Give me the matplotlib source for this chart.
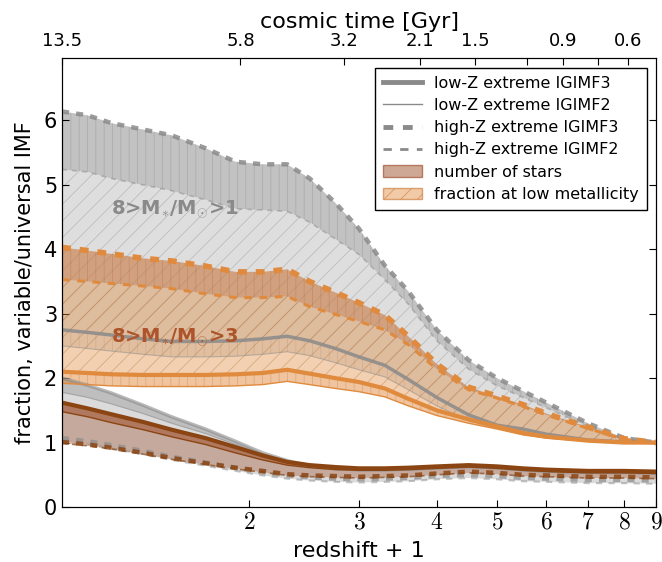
import numpy as np
import matplotlib
matplotlib.use("Agg")
import matplotlib.pyplot as plt
from matplotlib.lines import Line2D
from matplotlib.patches import Patch
from matplotlib.ticker import FixedLocator, FixedFormatter, NullLocator

plt.rcParams['mathtext.fontset'] = 'cm'
plt.rcParams['font.family'] = ['DejaVu Sans']
plt.rcParams['hatch.linewidth'] = 0.6

# redshift + 1 sampling
zp1 = [1.0, 1.1, 1.2, 1.35, 1.5, 1.7, 1.9, 2.1, 2.3, 2.5, 2.75, 3.0, 3.3, 3.6,
       4.0, 4.5, 5.0, 5.5, 6.0, 7.0, 8.0, 9.0]

# fraction at low metallicity, 8 > M/Msun > 1
hiZ3_m1 = [6.14, 6.08, 5.96, 5.86, 5.77, 5.57, 5.36, 5.32, 5.32, 5.10, 4.72, 4.32,
           3.75, 3.35, 2.75, 2.28, 2.00, 1.80, 1.62, 1.30, 1.07, 1.00]
hiZ2_m1 = [5.24, 5.20, 5.10, 5.00, 4.91, 4.77, 4.63, 4.61, 4.59, 4.42, 4.16, 3.92,
           3.53, 3.15, 2.58, 2.14, 1.88, 1.70, 1.54, 1.25, 1.04, 1.00]
loZ3_m1 = [2.75, 2.71, 2.67, 2.61, 2.57, 2.57, 2.58, 2.61, 2.65, 2.58, 2.46, 2.33,
           2.20, 1.98, 1.70, 1.43, 1.27, 1.21, 1.13, 1.04, 1.01, 1.00]
loZ2_m1 = [2.50, 2.46, 2.42, 2.37, 2.33, 2.33, 2.34, 2.37, 2.41, 2.35, 2.24, 2.13,
           2.02, 1.82, 1.57, 1.34, 1.22, 1.17, 1.10, 1.03, 1.00, 1.00]

# fraction at low metallicity, 8 > M/Msun > 3
hiZ3_m3 = [4.03, 3.98, 3.93, 3.86, 3.82, 3.74, 3.65, 3.65, 3.69, 3.50, 3.33, 3.17,
           2.98, 2.65, 2.22, 1.86, 1.72, 1.59, 1.45, 1.24, 1.06, 1.00]
hiZ2_m3 = [3.53, 3.50, 3.47, 3.43, 3.39, 3.31, 3.25, 3.25, 3.27, 3.11, 2.99, 2.88,
           2.75, 2.52, 2.14, 1.82, 1.69, 1.56, 1.43, 1.22, 1.05, 1.00]
loZ3_m3 = [2.10, 2.08, 2.06, 2.05, 2.05, 2.05, 2.06, 2.08, 2.13, 2.07, 2.00, 1.94,
           1.84, 1.68, 1.50, 1.36, 1.25, 1.15, 1.09, 1.03, 1.00, 1.00]
loZ2_m3 = [1.92, 1.90, 1.88, 1.87, 1.87, 1.87, 1.88, 1.90, 1.95, 1.90, 1.84, 1.79,
           1.71, 1.57, 1.42, 1.30, 1.21, 1.12, 1.07, 1.02, 1.00, 1.00]

# number of stars, 8 > M/Msun > 1
nloZ3_m1 = [2.00, 1.89, 1.77, 1.58, 1.40, 1.21, 1.02, 0.84, 0.72, 0.64, 0.60, 0.58,
            0.58, 0.59, 0.61, 0.63, 0.61, 0.58, 0.56, 0.54, 0.54, 0.53]
nloZ2_m1 = [1.78, 1.70, 1.60, 1.45, 1.30, 1.14, 0.97, 0.80, 0.69, 0.62, 0.58, 0.56,
            0.56, 0.57, 0.59, 0.61, 0.59, 0.56, 0.54, 0.52, 0.52, 0.51]
nhiZ3_m1 = [1.07, 1.02, 0.96, 0.87, 0.78, 0.69, 0.61, 0.54, 0.49, 0.46, 0.44, 0.43,
            0.44, 0.45, 0.48, 0.50, 0.48, 0.45, 0.44, 0.42, 0.42, 0.41]
nhiZ2_m1 = [1.02, 0.97, 0.91, 0.82, 0.73, 0.64, 0.56, 0.49, 0.44, 0.41, 0.39, 0.38,
            0.39, 0.40, 0.43, 0.45, 0.43, 0.40, 0.39, 0.37, 0.37, 0.36]

# number of stars, 8 > M/Msun > 3
nloZ3_m3 = [1.62, 1.53, 1.44, 1.32, 1.20, 1.07, 0.93, 0.80, 0.70, 0.65, 0.62, 0.60,
            0.60, 0.61, 0.63, 0.65, 0.63, 0.60, 0.58, 0.56, 0.56, 0.55]
nloZ2_m3 = [1.48, 1.40, 1.31, 1.20, 1.09, 0.97, 0.84, 0.73, 0.65, 0.61, 0.58, 0.57,
            0.57, 0.58, 0.60, 0.62, 0.60, 0.57, 0.55, 0.53, 0.53, 0.52]
nhiZ3_m3 = [1.01, 0.97, 0.92, 0.84, 0.76, 0.68, 0.61, 0.56, 0.51, 0.49, 0.48, 0.47,
            0.48, 0.49, 0.52, 0.55, 0.53, 0.50, 0.49, 0.47, 0.47, 0.46]
nhiZ2_m3 = [0.99, 0.95, 0.90, 0.82, 0.74, 0.66, 0.59, 0.54, 0.49, 0.47, 0.46, 0.45,
            0.46, 0.47, 0.50, 0.53, 0.51, 0.48, 0.47, 0.45, 0.45, 0.44]

# axis ticks
zp1_ticks = [2, 3, 4, 5, 6, 7, 8, 9]
age_tick_zp1 = [1.0, 1.935, 2.84, 3.76, 4.61, 5.58, 6.38, 7.26, 8.11]
age_labels = ['13.5', '5.8', '3.2', '2.1', '1.5', '', '0.9', '', '0.6']
y_ticks = [0, 1, 2, 3, 4, 5, 6]

GRAY = '#8a8a8a'
ORANGE = '#e08a3e'
BROWN = '#8b4513'
SIENNA = '#a0522d'

x = np.array(zp1)

fig = plt.figure(figsize=(6.62, 5.62), dpi=100)
ax = fig.add_axes([62 / 662, 1 - 507 / 562, 594 / 662, 449 / 562])


def rgba(c, a):
    return matplotlib.colors.to_rgba(c, a)


# ---- fraction at low metallicity (hatched bands) ----
ax.fill_between(x, hiZ2_m1, loZ3_m1, facecolor=rgba(GRAY, 0.28),
                edgecolor=rgba(GRAY, 0.4), hatch='//', lw=0, zorder=1)
ax.fill_between(x, hiZ3_m1, hiZ2_m1, facecolor=rgba(GRAY, 0.52),
                edgecolor=rgba('#7a7a7a', 0.3), hatch='||', lw=0, zorder=1)
ax.fill_between(x, loZ3_m1, loZ2_m1, facecolor=rgba(GRAY, 0.25),
                edgecolor=rgba('#7a7a7a', 0.25), hatch='||', lw=0, zorder=1)

ax.fill_between(x, hiZ2_m3, loZ3_m3, facecolor=rgba(ORANGE, 0.4),
                edgecolor=rgba('#b0703a', 0.4), hatch='//', lw=0, zorder=2)
ax.fill_between(x, hiZ3_m3, hiZ2_m3, facecolor=rgba('#c8763a', 0.58),
                edgecolor=rgba('#b06a35', 0.35), hatch='||', lw=0, zorder=2)
ax.fill_between(x, loZ3_m3, loZ2_m3, facecolor=rgba(ORANGE, 0.5),
                edgecolor=rgba('#c07a40', 0.35), hatch='||', lw=0, zorder=2)

# ---- number of stars (solid bands) ----
ax.fill_between(x, nloZ3_m1, nhiZ2_m1, facecolor=rgba(GRAY, 0.3), lw=0, zorder=1)
ax.fill_between(x, nloZ3_m1, nloZ2_m1, facecolor=rgba(GRAY, 0.35), lw=0, zorder=1)
ax.fill_between(x, nloZ3_m3, nhiZ2_m3, facecolor=rgba(SIENNA, 0.36), lw=0, zorder=2)
ax.fill_between(x, nloZ3_m3, nloZ2_m3, facecolor=rgba(SIENNA, 0.55), lw=0, zorder=2)

dash = (1.6, 1.6)

# lines, 8 > M/Msun > 1
ax.plot(x, hiZ3_m1, color=GRAY, lw=3.2, dashes=dash, alpha=0.85, zorder=4)
ax.plot(x, hiZ2_m1, color=GRAY, lw=1.2, dashes=(3, 3), alpha=0.5, zorder=4)
ax.plot(x, loZ3_m1, color=GRAY, lw=2.5, alpha=0.85, zorder=4)
ax.plot(x, loZ2_m1, color=GRAY, lw=0.8, alpha=0.5, zorder=4)
ax.plot(x, nloZ3_m1, color=GRAY, lw=2.5, alpha=0.6, zorder=4)
ax.plot(x, nloZ2_m1, color=GRAY, lw=0.8, alpha=0.6, zorder=4)
ax.plot(x, nhiZ3_m1, color=GRAY, lw=3.2, dashes=dash, alpha=0.7, zorder=4)
ax.plot(x, nhiZ2_m1, color=GRAY, lw=1.5, dashes=(3, 3), alpha=0.5, zorder=4)

# lines, 8 > M/Msun > 3
ax.plot(x, hiZ3_m3, color=ORANGE, lw=4.0, dashes=dash, zorder=5)
ax.plot(x, hiZ2_m3, color=ORANGE, lw=2.2, dashes=(2.5, 2.5), zorder=5)
ax.plot(x, loZ3_m3, color=ORANGE, lw=3.0, zorder=5)
ax.plot(x, loZ2_m3, color=ORANGE, lw=1.0, zorder=5)
ax.plot(x, nloZ3_m3, color=BROWN, lw=3.0, zorder=5)
ax.plot(x, nloZ2_m3, color=BROWN, lw=1.0, zorder=5)
ax.plot(x, nhiZ3_m3, color=BROWN, lw=3.2, dashes=dash, alpha=0.85, zorder=5)
ax.plot(x, nhiZ2_m3, color=BROWN, lw=1.2, dashes=(3, 3), alpha=0.7, zorder=5)

ax.text(1.2, 4.62, r'8>M$_{\ast}$/M$_{\odot}$>1', color=GRAY, fontsize=14,
        fontweight='bold', va='center', ha='left', zorder=6)
ax.text(1.2, 2.63, r'8>M$_{\ast}$/M$_{\odot}$>3', color='#ad542a', fontsize=14,
        fontweight='bold', va='center', ha='left', zorder=6)

# axes
ax.set_xscale('log')
ax.set_xlim(1, 9)
ax.set_ylim(0, 6.97)
ax.xaxis.set_major_locator(FixedLocator(zp1_ticks))
ax.xaxis.set_major_formatter(FixedFormatter(['$%d$' % t for t in zp1_ticks]))
ax.xaxis.set_minor_locator(NullLocator())
ax.set_yticks(y_ticks)
ax.tick_params(axis='x', which='both', direction='in', top=False, labelsize=17,
               length=5, pad=2)
ax.tick_params(axis='y', which='both', direction='in', right=True, labelsize=15,
               length=5)
ax.set_xlabel('redshift + 1', fontsize=16, labelpad=5)
ax.set_ylabel('fraction, variable/universal IMF', fontsize=15, labelpad=6)

ax2 = ax.twiny()
ax2.set_xscale('log')
ax2.set_xlim(1, 9)
ax2.xaxis.set_major_locator(FixedLocator(age_tick_zp1))
ax2.xaxis.set_major_formatter(FixedFormatter(age_labels))
ax2.xaxis.set_minor_locator(NullLocator())
ax2.tick_params(axis='x', direction='in', labelsize=13, length=5, pad=6)
ax2.set_xlabel('cosmic time [Gyr]', fontsize=16, labelpad=3)

handles = [
    Line2D([], [], color=GRAY, lw=3.5),
    Line2D([], [], color=GRAY, lw=1.0),
    Line2D([], [], color=GRAY, lw=3.5, dashes=(2, 2)),
    Line2D([], [], color=GRAY, lw=2.0, dashes=(3, 3)),
    Patch(facecolor=rgba(SIENNA, 0.5), edgecolor=rgba(SIENNA, 0.7), lw=1),
    Patch(facecolor=rgba(ORANGE, 0.45), edgecolor=rgba('#d08040', 0.7),
          hatch='//', lw=1),
]
labels = ['low-Z extreme IGIMF3', 'low-Z extreme IGIMF2',
          'high-Z extreme IGIMF3', 'high-Z extreme IGIMF2',
          'number of stars', 'fraction at low metallicity']
leg = ax.legend(handles, labels, loc='upper right',
                bbox_to_anchor=(0.985, 0.978), borderaxespad=0,
                fontsize=11.5, fancybox=False, framealpha=1, edgecolor='black',
                handlelength=2.4, handletextpad=0.8, labelspacing=0.45,
                borderpad=0.5)
leg.get_frame().set_linewidth(1.0)
leg.set_zorder(10)

fig.savefig('out.png', dpi=100)
